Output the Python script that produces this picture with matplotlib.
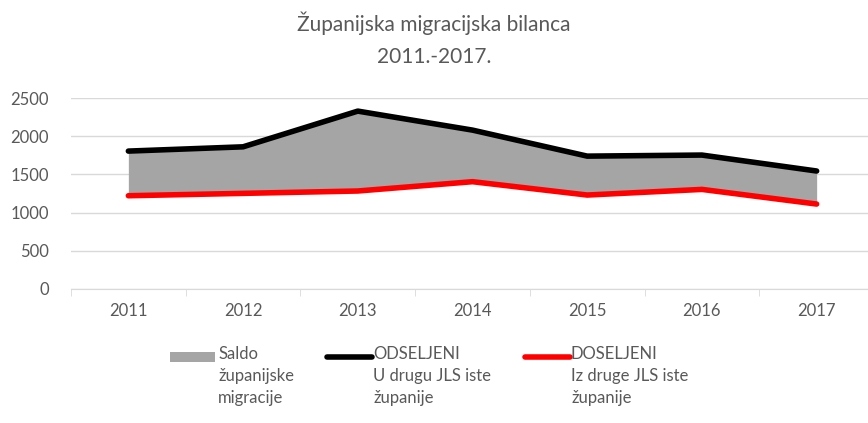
import matplotlib.pyplot as plt
from matplotlib.lines import Line2D
from matplotlib.patches import Rectangle

plt.rcParams['font.family'] = ['Lato', 'DejaVu Sans']

godine = ['2011', '2012', '2013', '2014', '2015', '2016', '2017']
odseljeni = [1806, 1862, 2330, 2081, 1740, 1754, 1545]
doseljeni = [1221, 1252, 1283, 1405, 1230, 1304, 1112]

txt = '#595959'
siva = '#A5A5A5'

fig = plt.figure(figsize=(8.68, 4.23), dpi=100)
ax = fig.add_axes([71 / 868, 0.317, 803 / 868, 0.451])

x = list(range(len(godine)))
ax.fill_between(x, doseljeni, odseljeni, color=siva, linewidth=0, zorder=2)
ax.plot(x, odseljeni, color='black', linewidth=4, solid_capstyle='round', zorder=3)
ax.plot(x, doseljeni, color='#FF0000', linewidth=4, solid_capstyle='round', zorder=3)

ax.set_xlim(-0.5, len(godine) - 0.5)
ax.set_ylim(0, 2500)
ax.set_yticks(range(0, 2501, 500))
ax.set_xticks(x)
ax.set_xticklabels(godine)
ax.grid(axis='y', color='#D9D9D9', linewidth=1, zorder=0)
ax.set_axisbelow(True)
for s in ['top', 'right', 'left']:
    ax.spines[s].set_visible(False)
ax.spines['bottom'].set_color('#D9D9D9')
ax.tick_params(axis='y', length=0, labelsize=12, labelcolor=txt, pad=16)
ax.tick_params(axis='x', length=0, labelsize=12, labelcolor=txt, pad=10)
# kratke crtice između kategorija
ax.set_xticks([i - 0.5 for i in range(len(godine))], minor=True)
ax.tick_params(axis='x', which='minor', length=5, color='#D9D9D9', direction='out')

fig.text(0.5, 0.945, 'Županijska migracijska bilanca', ha='center', va='center',
         fontsize=15, color=txt)
fig.text(0.5, 0.865, '2011.-2017.', ha='center', va='center', fontsize=15, color=txt)

# legenda
ly = 1 - 357 / 423
fig.add_artist(Rectangle((170 / 868, 1 - 362 / 423), 45 / 868, 10 / 423,
                         transform=fig.transFigure, color=siva, lw=0))
fig.add_artist(Line2D([327 / 868, 372 / 868], [ly, ly], transform=fig.transFigure,
                      color='black', lw=4, solid_capstyle='round'))
fig.add_artist(Line2D([525 / 868, 570 / 868], [ly, ly], transform=fig.transFigure,
                      color='#FF0000', lw=4, solid_capstyle='round'))
labels = [(218, 'Saldo\nžupanijske\nmigracije'),
          (373, 'ODSELJENI\nU drugu JLS iste\nžupanije'),
          (571, 'DOSELJENI\nIz druge JLS iste\nžupanije')]
for px, t in labels:
    fig.text(px / 868, 1 - 346 / 423, t, ha='left', va='top', fontsize=12,
             color=txt, linespacing=1.45)

fig.savefig('out.png', dpi=100)
